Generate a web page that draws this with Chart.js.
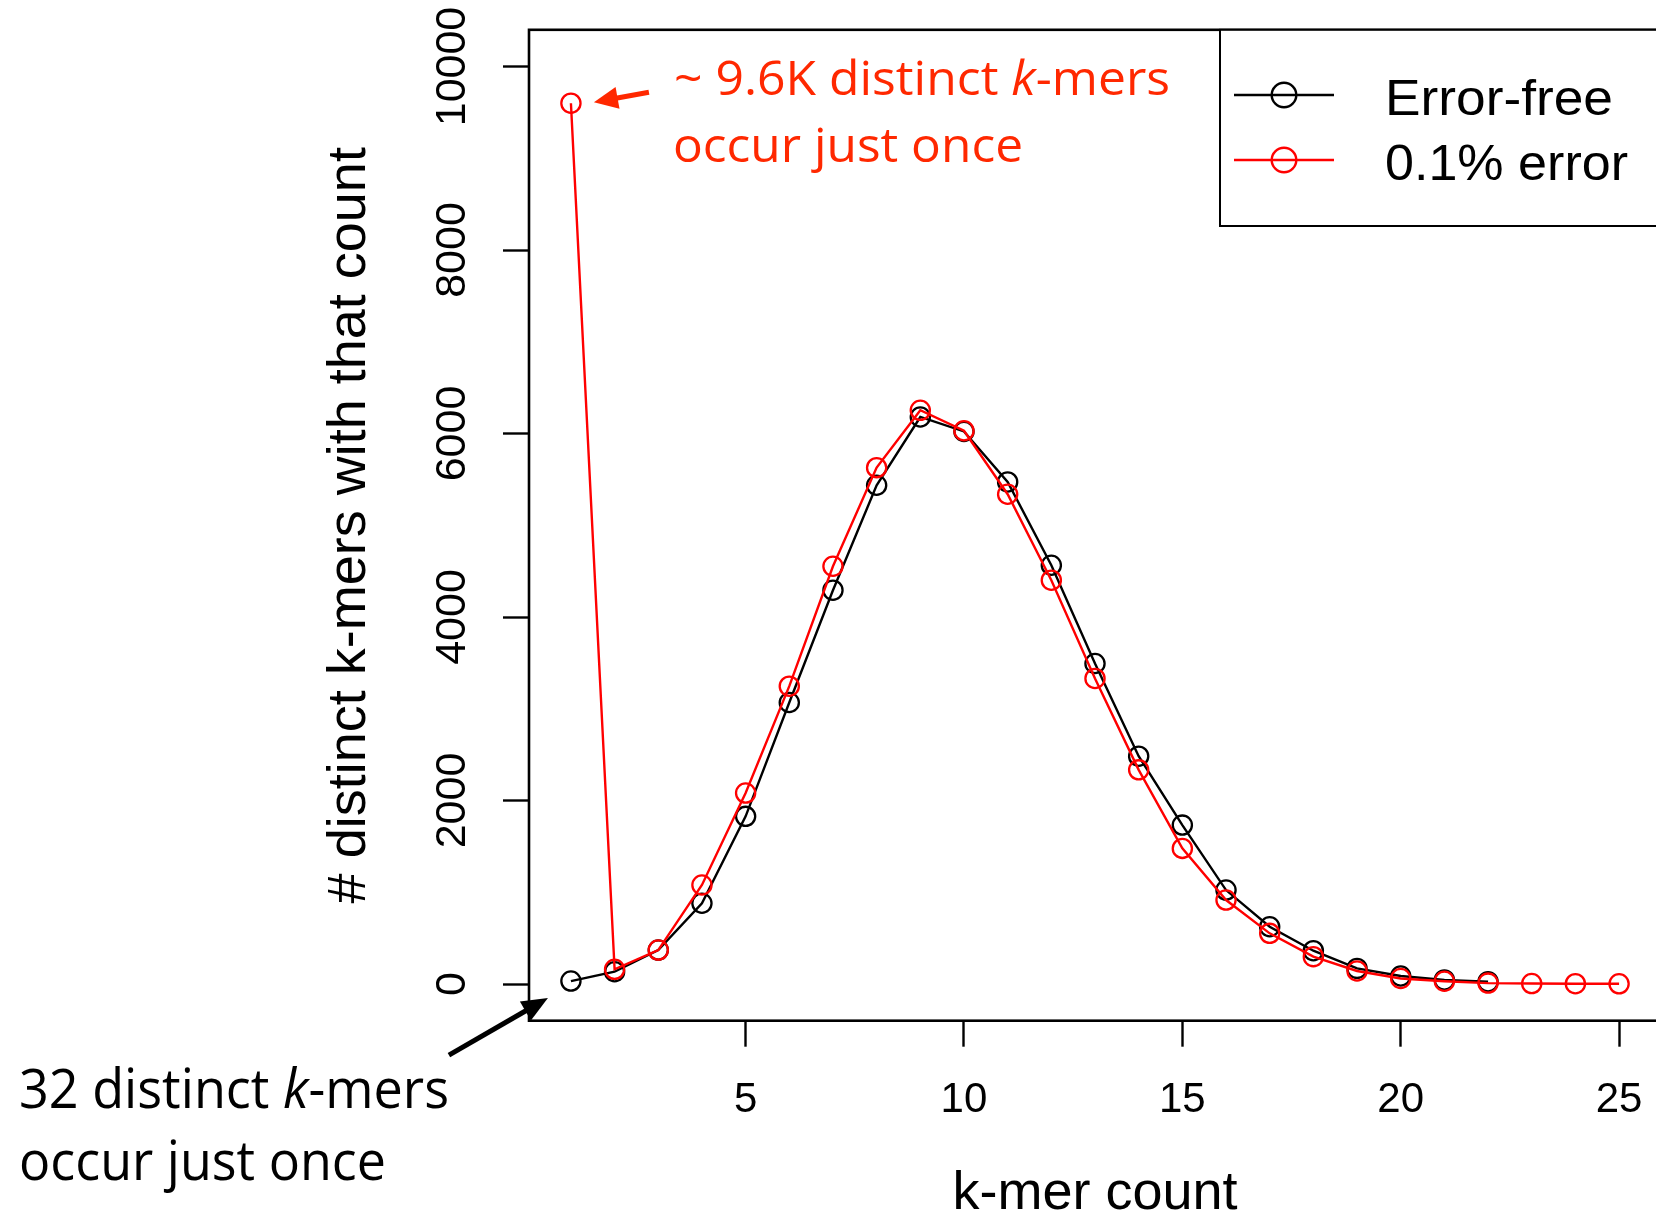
<!DOCTYPE html>
<html>
<head>
<meta charset="utf-8">
<title>k-mer count distribution</title>
<script src="https://cdn.jsdelivr.net/npm/chart.js@4.4.1/dist/chart.umd.min.js"></script>
<style>
  html, body { margin: 0; padding: 0; width: 1656px; height: 1221px; overflow: hidden; background: #fff; }
  canvas { display: block; }
</style>
</head>
<body>
<canvas id="c" width="1700" height="1221"></canvas>
<script>
// k-mer multiplicity (how many times a distinct k-mer occurs)
const kmerCount = [1, 2, 3, 4, 5, 6, 7, 8, 9, 10, 11, 12, 13, 14, 15, 16, 17, 18, 19, 20, 21, 22, 23, 24, 25];

// number of distinct k-mers with that count, reads without errors
const errorFree = [32, 134, 370, 880, 1827, 3068, 4292, 5436, 6180, 6022, 5472, 4564, 3493, 2483, 1732, 1024, 624, 363, 170, 87, 44, 25];

// number of distinct k-mers with that count, reads with 0.1% error
const withError = [9600, 160, 370, 1079, 2081, 3246, 4553, 5628, 6253, 6030, 5338, 4401, 3330, 2334, 1478, 915, 552, 298, 142, 60, 30, 10, 5, 3, 2];

const xTicks = [5, 10, 15, 20, 25];
const yTicks = [0, 2000, 4000, 6000, 8000, 10000];

const seriesNames = ['Error-free', '0.1% error'];
const seriesColors = ['#000000', '#ff0000'];

const noteColor = '#ff2800';
const SANS = '"Liberation Sans", Arial, Helvetica, sans-serif';
const NOTE_FONT = '"Open Sans", "Noto Sans", sans-serif';

const toPoints = (vals) => vals.map((v, i) => ({ x: kmerCount[i], y: v }));

// Canvas layout (plot box edges)
const CANVAS_H = 1221;
const PLOT_LEFT = 529;
const PLOT_TOP = 29.8;
const PLOT_BOTTOM = 1020.7;
const PLOT_RIGHT = 1661;

// rich text: parts of [text, italic], squeezed to a given width
function drawRichLine(ctx, parts, x, baseline, size, family, width, color) {
  let total = 0;
  const measured = parts.map(([t, it]) => {
    ctx.font = (it ? 'italic ' : '') + size + 'px ' + family;
    const w = ctx.measureText(t).width;
    total += w;
    return w;
  });
  const sx = width / total;
  ctx.save();
  ctx.translate(x, baseline);
  ctx.scale(sx, 1);
  ctx.fillStyle = color;
  ctx.textAlign = 'left';
  ctx.textBaseline = 'alphabetic';
  let cx = 0;
  parts.forEach(([t, it], i) => {
    ctx.font = (it ? 'italic ' : '') + size + 'px ' + family;
    ctx.fillText(t, cx, 0);
    cx += measured[i];
  });
  ctx.restore();
}

function drawArrow(ctx, x1, y1, x2, y2, color, lw, headLen, headHalf) {
  const dx = x2 - x1, dy = y2 - y1;
  const L = Math.hypot(dx, dy);
  const ux = dx / L, uy = dy / L;
  const bx = x2 - ux * headLen, by = y2 - uy * headLen;
  ctx.save();
  ctx.strokeStyle = color;
  ctx.fillStyle = color;
  ctx.lineWidth = lw;
  ctx.lineCap = 'butt';
  ctx.beginPath();
  ctx.moveTo(x1, y1);
  ctx.lineTo(bx + ux * 3, by + uy * 3);
  ctx.stroke();
  ctx.beginPath();
  ctx.moveTo(x2, y2);
  ctx.lineTo(bx - uy * headHalf, by + ux * headHalf);
  ctx.lineTo(bx + uy * headHalf, by - ux * headHalf);
  ctx.closePath();
  ctx.fill();
  ctx.restore();
}

// Box around the plotting region
const plotBox = {
  id: 'plotBox',
  beforeDatasetsDraw(chart) {
    const { ctx, chartArea: a } = chart;
    ctx.save();
    ctx.strokeStyle = '#000';
    ctx.lineWidth = 2.6;
    ctx.strokeRect(a.left, a.top, a.right - a.left, a.bottom - a.top);
    ctx.restore();
  }
};

// Boxed legend in the top-right corner of the plot
const boxedLegend = {
  id: 'boxedLegend',
  afterDatasetsDraw(chart) {
    const { ctx, chartArea: a } = chart;
    const left = 1220, bottom = 226;
    ctx.save();
    ctx.fillStyle = '#fff';
    ctx.fillRect(left, a.top, a.right - left, bottom - a.top);
    ctx.strokeStyle = '#000';
    ctx.lineWidth = 2;
    ctx.strokeRect(left, a.top, a.right - left + 20, bottom - a.top);
    const rows = [95, 160];
    const widths = [228, 243];
    chart.data.datasets.slice().sort((p, q) => p.legendRank - q.legendRank).forEach((ds, i) => {
      const cy = rows[i];
      ctx.strokeStyle = ds.borderColor;
      ctx.lineWidth = 2.4;
      ctx.beginPath();
      ctx.moveTo(1234, cy);
      ctx.lineTo(1334, cy);
      ctx.stroke();
      ctx.beginPath();
      ctx.arc(1284, cy, 12.3, 0, Math.PI * 2);
      ctx.stroke();
      drawRichLine(ctx, [[ds.label, false]], 1385, cy + 19.5, 50, SANS, widths[i], '#000');
    });
    ctx.restore();
  }
};

// Callout notes with arrows
const callouts = {
  id: 'callouts',
  afterDraw(chart) {
    const { ctx, scales: { x, y } } = chart;
    // red note: the k-mers seen once in reads with errors
    const rx = x.getPixelForValue(kmerCount[0]) + 23;
    const ry = y.getPixelForValue(withError[0]) - 1;
    drawArrow(ctx, rx + 55, ry - 10, rx, ry, noteColor, 5, 24, 11);
    drawRichLine(ctx, [['~ 9.6K distinct ', false], ['k', true], ['-mers', false]], 674, 95, 47, NOTE_FONT, 496, noteColor);
    drawRichLine(ctx, [['occur just once', false]], 673, 162, 47, NOTE_FONT, 350, noteColor);

    // black note: the k-mers seen once in error-free reads
    const bx = x.getPixelForValue(kmerCount[0]) - 23;
    const by = y.getPixelForValue(errorFree[0]) + 17;
    drawArrow(ctx, bx - 99, by + 57, bx, by, '#000', 5, 26, 11);
    drawRichLine(ctx, [['32 distinct ', false], ['k', true], ['-mers', false]], 19, 1108, 54, NOTE_FONT, 430, '#000');
    drawRichLine(ctx, [['occur just once', false]], 19, 1180, 54, NOTE_FONT, 367, '#000');
  }
};

const ctx = document.getElementById('c').getContext('2d');

new Chart(ctx, {
  type: 'line',
  data: {
    datasets: [
      {
        label: seriesNames[0],
        legendRank: 0,
        data: toPoints(errorFree),
        borderColor: seriesColors[0],
        backgroundColor: 'rgba(0,0,0,0)',
        borderWidth: 2.4,
        pointRadius: 9.6,
        pointBorderWidth: 2.3,
        pointBackgroundColor: 'rgba(0,0,0,0)',
        pointBorderColor: seriesColors[0],
        tension: 0,
        order: 2
      },
      {
        label: seriesNames[1],
        legendRank: 1,
        data: toPoints(withError),
        borderColor: seriesColors[1],
        backgroundColor: 'rgba(0,0,0,0)',
        borderWidth: 2.4,
        pointRadius: 9.6,
        pointBorderWidth: 2.3,
        pointBackgroundColor: 'rgba(0,0,0,0)',
        pointBorderColor: seriesColors[1],
        tension: 0,
        order: 1
      }
    ]
  },
  options: {
    responsive: false,
    animation: false,
    devicePixelRatio: 1,
    events: [],
    layout: {
      padding: { left: 0, top: PLOT_TOP, right: 1700 - PLOT_RIGHT, bottom: 0 }
    },
    plugins: {
      legend: { display: false },
      tooltip: { enabled: false },
      title: { display: false }
    },
    scales: {
      x: {
        type: 'linear',
        position: 'bottom',
        min: 0.04,
        max: 25.96,
        afterBuildTicks: (s) => { s.ticks = xTicks.map(v => ({ value: v })); },
        afterFit: (s) => { s.height = CANVAS_H - PLOT_BOTTOM; },
        border: { display: false },
        grid: {
          display: true,
          drawOnChartArea: false,
          drawTicks: true,
          tickLength: 26,
          tickWidth: 2.4,
          tickColor: '#000'
        },
        ticks: {
          autoSkip: false,
          minRotation: 0,
          maxRotation: 0,
          padding: 29,
          color: '#000',
          callback: (v) => String(v),
          font: { family: SANS, size: 42 }
        },
        title: {
          display: true,
          text: 'k-mer count',
          color: '#000',
          font: { family: SANS, size: 54, lineHeight: 1 },
          padding: { top: 0, bottom: 0 }
        }
      },
      y: {
        type: 'linear',
        position: 'left',
        min: -400,
        max: 10400,
        afterBuildTicks: (s) => { s.ticks = yTicks.map(v => ({ value: v })); },
        afterFit: (s) => { s.width = PLOT_LEFT; },
        border: { display: false },
        grid: {
          display: true,
          drawOnChartArea: false,
          drawTicks: true,
          tickLength: 26,
          tickWidth: 2.4,
          tickColor: '#000'
        },
        ticks: {
          autoSkip: false,
          minRotation: 90,
          maxRotation: 90,
          crossAlign: 'center',
          padding: -10,
          color: '#000',
          callback: (v) => String(v),
          font: { family: SANS, size: 43 }
        },
        title: {
          display: true,
          text: '# distinct k-mers with that count',
          color: '#000',
          font: { family: SANS, size: 54, lineHeight: 1 },
          padding: { top: 323, bottom: 0 }
        }
      }
    }
  },
  plugins: [plotBox, boxedLegend, callouts]
});
</script>
</body>
</html>
